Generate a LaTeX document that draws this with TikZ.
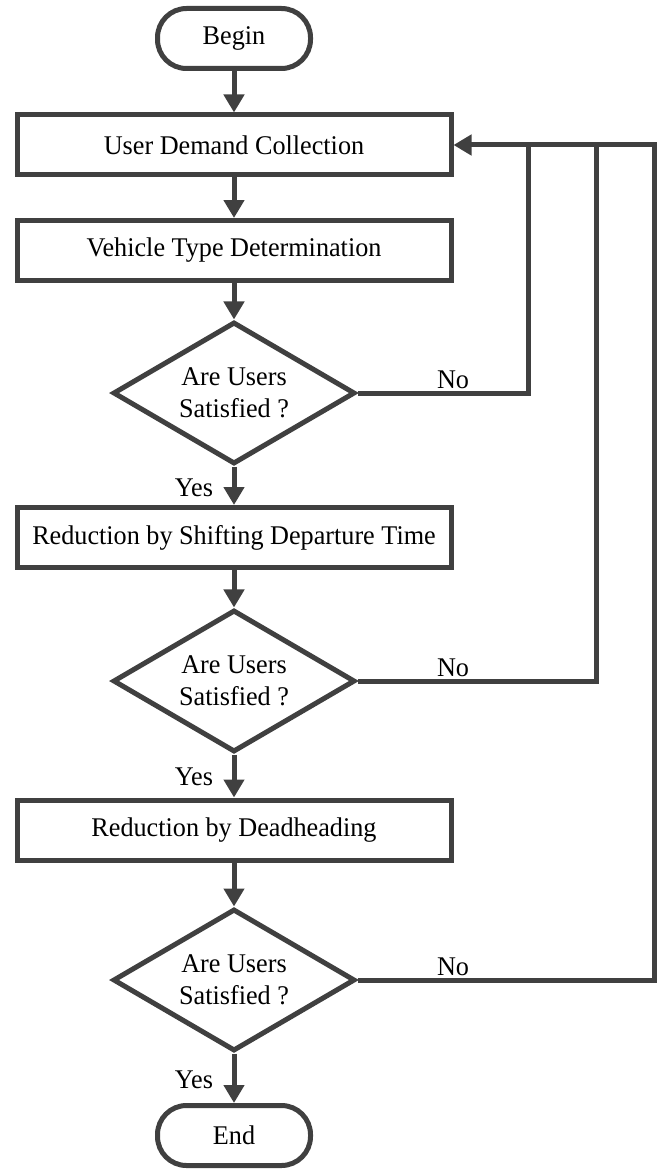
\documentclass[tikz,border=0pt]{standalone}
\usepackage{fontspec}
\setmainfont{Liberation Serif}[FakeStretch=0.97]
\usetikzlibrary{shapes.geometric,arrows.meta}
\definecolor{ln}{RGB}{64,64,64}
\begin{document}
\begin{tikzpicture}[x=1pt,y=-1pt,
  every node/.style={font=\fontsize{27}{32}\selectfont},
  proc/.style={draw=ln,line width=5pt,minimum width=434pt,minimum height=60pt,inner sep=0pt},
  term/.style={draw=ln,line width=5pt,rounded corners=29pt,minimum width=153pt,minimum height=60pt,inner sep=0pt},
  decis/.style={draw=ln,line width=5pt,diamond,aspect=1.69,minimum width=242pt,minimum height=142pt,inner sep=0pt,align=center},
  flow/.style={draw=ln,line width=5pt,-{Triangle[length=18pt,width=20pt]}},
  link/.style={draw=ln,line width=5pt},
  lbl/.style={inner sep=0pt}]
  \useasboundingbox (0,0) rectangle (657,1169);

  % main column
  \node[term]  (begin)   at (234,38.5)   {Begin};
  \node[proc]  (collect) at (234,145)    {User Demand Collection};
  \node[proc]  (vtype)   at (234,250.5)  {Vehicle Type Determination};
  \node[decis] (sat1)    at (234,393)    {Are Users\\Satisfied ?};
  \node[proc]  (shift)   at (234,537.5)  {Reduction by Shifting Departure Time};
  \node[decis] (sat2)    at (234,681)    {Are Users\\Satisfied ?};
  \node[proc]  (dead)    at (234,830)    {Reduction by Deadheading};
  \node[decis] (sat3)    at (234,980)    {Are Users\\Satisfied ?};
  \node[term]  (end)     at (234,1135.5) {End};

  % downward flow
  \draw[flow] (begin)   -- (collect);
  \draw[flow] (collect) -- (vtype);
  \draw[flow] (vtype)   -- (sat1);
  \draw[flow] (sat1)    -- (shift);
  \draw[flow] (shift)   -- (sat2);
  \draw[flow] (sat2)    -- (dead);
  \draw[flow] (dead)    -- (sat3);
  \draw[flow] (sat3)    -- (end);

  % feedback loops back to demand collection
  \coordinate (r1) at (528,145);
  \coordinate (r2) at (596,145);
  \coordinate (r3) at (654,145);
  \draw[flow] (sat3.east) -| (r3) -- (collect.east);
  \draw[link] (sat1.east) -| (r1);
  \draw[link] (sat2.east) -| (r2);

  % branch labels
  \node[lbl] (no1)  at (453,380)  {No};
  \node[lbl] (no2)  at (453,668)  {No};
  \node[lbl] (no3)  at (453,967)  {No};
  \node[lbl] (yes1) at (194,488)  {Yes};
  \node[lbl] (yes2) at (194,777)  {Yes};
  \node[lbl] (yes3) at (194,1080) {Yes};
\end{tikzpicture}
\end{document}
